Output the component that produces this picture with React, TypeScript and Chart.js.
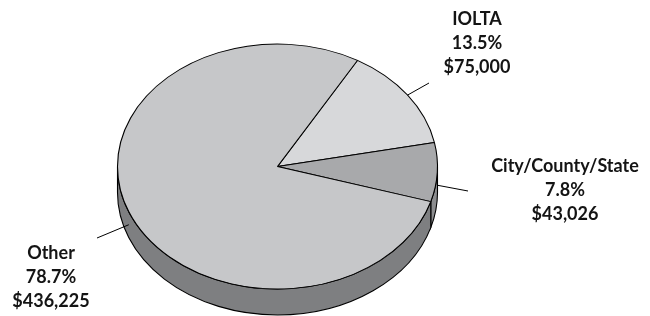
import React, { useEffect, useRef } from 'react';
import { Chart, registerables } from 'chart.js';

Chart.register(...registerables);

// ---- data ----
const categories = ['IOLTA', 'City/County/State', 'Other'];
const amounts = [75000, 43026, 436225];
const percentLabels = ['13.5%', '7.8%', '78.7%'];
const amountLabels = ['$75,000', '$43,026', '$436,225'];

// ---- styles / layout ----
const topColors = ['#d7d8da', '#a8a9ab', '#c6c7c9'];
const sideColors = ['#a3a4a6', '#8c8d8f', '#7e7f81'];
const TILT = 122.5 / 160; // vertical squash of the pie
const DEPTH = 26; // thickness of the 3D wall
// label text centre (first line) and leader line end per slice
const labelLayout = [
  { tx: 477, ty: 19, lx: 429, ly: 83 },
  { tx: 565, ty: 166, lx: 468, ly: 191 },
  { tx: 51, ty: 253, lx: 97, ly: 238 },
];
const LINE_GAP = 24;
const FONT = 'bold 18px Lato';

const pie3d = {
  id: 'pie3d',
  beforeDatasetsDraw(chart: any) {
    const ctx: CanvasRenderingContext2D = chart.ctx;
    const arcs = chart.getDatasetMeta(0).data;
    if (!arcs.length) return;
    const { x: cx, y: cy, outerRadius: r } = arcs[0].getProps(['x', 'y', 'outerRadius'], true);
    const ry = r * TILT;
    ctx.save();
    ctx.lineWidth = 1.1;
    ctx.strokeStyle = '#000';
    arcs.forEach((arc: any, i: number) => {
      const { startAngle, endAngle } = arc.getProps(['startAngle', 'endAngle'], true);
      for (const off of [-2 * Math.PI, 0, 2 * Math.PI]) {
        const a1 = Math.max(startAngle + off, 0);
        const a2 = Math.min(endAngle + off, Math.PI);
        if (a2 <= a1) continue;
        ctx.beginPath();
        ctx.ellipse(cx, cy, r, ry, 0, a1, a2, false);
        ctx.lineTo(cx + r * Math.cos(a2), cy + ry * Math.sin(a2) + DEPTH);
        ctx.ellipse(cx, cy + DEPTH, r, ry, 0, a2, a1, true);
        ctx.closePath();
        ctx.fillStyle = sideColors[i];
        ctx.fill();
        ctx.stroke();
      }
    });
    ctx.restore();
    ctx.save();
    ctx.translate(cx, cy);
    ctx.scale(1, TILT);
    ctx.translate(-cx, -cy);
  },
  afterDatasetsDraw(chart: any) {
    const ctx: CanvasRenderingContext2D = chart.ctx;
    ctx.restore();
    const arcs = chart.getDatasetMeta(0).data;
    if (!arcs.length) return;
    const { x: cx, y: cy, outerRadius: r } = arcs[0].getProps(['x', 'y', 'outerRadius'], true);
    const ry = r * TILT;
    ctx.save();
    arcs.forEach((arc: any, i: number) => {
      const { startAngle, endAngle } = arc.getProps(['startAngle', 'endAngle'], true);
      const mid = (startAngle + endAngle) / 2;
      const sx = cx + r * Math.cos(mid);
      let sy = cy + ry * Math.sin(mid);
      if (Math.sin(mid) > 0) sy += DEPTH / 2;
      const lay = labelLayout[i];
      ctx.beginPath();
      ctx.moveTo(sx, sy);
      ctx.lineTo(lay.lx, lay.ly);
      ctx.strokeStyle = '#000';
      ctx.lineWidth = 1;
      ctx.stroke();
      ctx.fillStyle = '#141414';
      ctx.font = FONT;
      ctx.textAlign = 'center';
      ctx.textBaseline = 'middle';
      const lines = [categories[i], percentLabels[i], amountLabels[i]];
      lines.forEach((t, j) => ctx.fillText(t, lay.tx, lay.ty + j * LINE_GAP));
    });
    ctx.restore();
  },
};

export default function App() {
  const ref = useRef<HTMLCanvasElement | null>(null);
  useEffect(() => {
    document.body.style.margin = '0';
    const chart = new Chart(ref.current as HTMLCanvasElement, {
      type: 'pie',
      data: {
        labels: categories,
        datasets: [
          {
            data: amounts,
            backgroundColor: topColors,
            borderColor: '#000',
            borderWidth: 1.1,
            radius: 160,
            clip: false,
          } as any,
        ],
      },
      options: {
        responsive: false,
        animation: false,
        rotation: 30,
        layout: { padding: { left: 0, right: 95, top: 17, bottom: 0 } },
        plugins: {
          legend: { display: false },
          tooltip: { enabled: false },
        },
        events: [],
      },
      plugins: [pie3d],
    });
    return () => chart.destroy();
  }, []);
  return (
    <div style={{ position: 'fixed', left: 0, top: 0, width: 650, height: 316, background: '#fff' }}>
      <canvas ref={ref} width={650} height={316} />
    </div>
  );
}
